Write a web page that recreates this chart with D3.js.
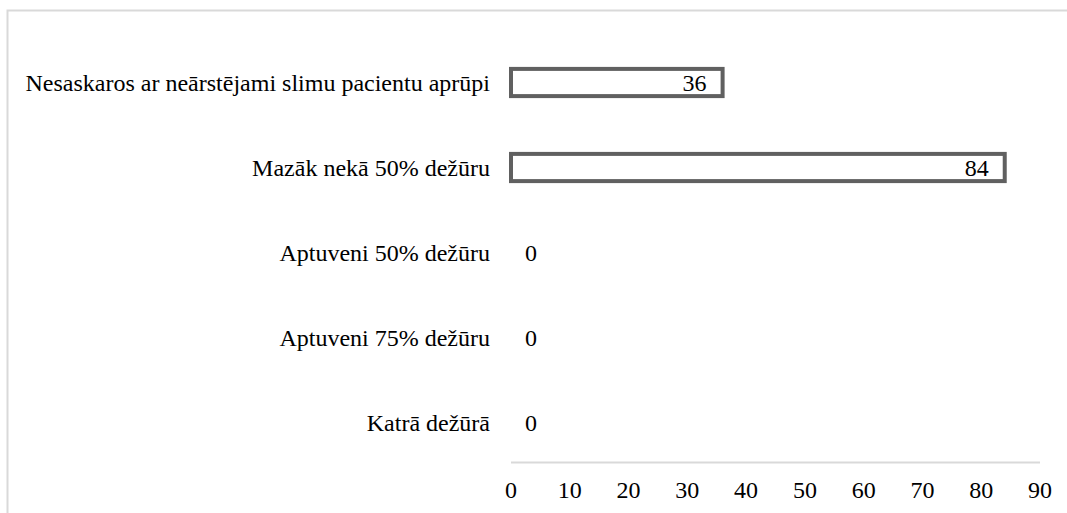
<!DOCTYPE html>
<html>
<head>
<meta charset="utf-8">
<script src="https://cdn.jsdelivr.net/npm/d3@7"></script>
<style>
  body { margin: 0; background: #fff; }
  svg text { font-family: "Liberation Serif", Tinos, "Times New Roman", serif !important; }
</style>
</head>
<body>
<div id="viz"></div>
<script>
// chart data
const categories = [
  "Nesaskaros ar neārstējami slimu pacientu aprūpi",
  "Mazāk nekā 50% dežūru",
  "Aptuveni 50% dežūru",
  "Aptuveni 75% dežūru",
  "Katrā dežūrā"
];
const values = [36, 84, 0, 0, 0];
const tickValues = [0, 10, 20, 30, 40, 50, 60, 70, 80, 90];

const width = 1067;
const height = 513;
const fontSize = "24px";

const svg = d3.select("#viz").append("svg")
  .attr("width", width)
  .attr("height", height)
  .style("font-family", "'Liberation Serif'");

// outer chart frame (light grey)
svg.append("rect")
  .attr("x", 7.5)
  .attr("y", 10.5)
  .attr("width", 1100)
  .attr("height", 600)
  .attr("fill", "none")
  .attr("stroke", "#d9d9d9")
  .attr("stroke-width", 2);

const x = d3.scaleLinear()
  .domain([0, 90])
  .range([511, 1040]);

const y = d3.scaleBand()
  .domain(categories)
  .range([40, 465])
  .paddingInner(0.68)
  .paddingOuter(0.34);

// bottom axis line
svg.append("line")
  .attr("x1", x(0))
  .attr("x2", x(90))
  .attr("y1", 462.5)
  .attr("y2", 462.5)
  .attr("stroke", "#d9d9d9")
  .attr("stroke-width", 2);

// tick labels
svg.append("g")
  .selectAll("text")
  .data(tickValues)
  .join("text")
  .attr("x", d => x(d))
  .attr("y", 498)
  .attr("text-anchor", "middle")
  .style("font-size", fontSize)
  .text(d => d);

const rows = categories.map((c, i) => ({ cat: c, value: values[i] }));

// bars
svg.append("g")
  .selectAll("rect")
  .data(rows.filter(d => d.value > 0))
  .join("rect")
  .attr("x", x(0))
  .attr("y", d => y(d.cat))
  .attr("width", d => x(d.value) - x(0))
  .attr("height", y.bandwidth())
  .attr("fill", "#fff")
  .attr("stroke", "#606060")
  .attr("stroke-width", 4);

// category labels
svg.append("g")
  .selectAll("text")
  .data(rows)
  .join("text")
  .attr("x", 490)
  .attr("y", d => y(d.cat) + y.bandwidth() / 2 + 8)
  .attr("text-anchor", "end")
  .style("font-size", fontSize)
  .text(d => d.cat);

// value labels
svg.append("g")
  .selectAll("text")
  .data(rows)
  .join("text")
  .attr("x", d => d.value > 0 ? x(d.value) - 16 : x(0) + 20)
  .attr("y", d => y(d.cat) + y.bandwidth() / 2 + 8)
  .attr("text-anchor", d => d.value > 0 ? "end" : "middle")
  .style("font-size", fontSize)
  .text(d => d.value);
</script>
</body>
</html>
